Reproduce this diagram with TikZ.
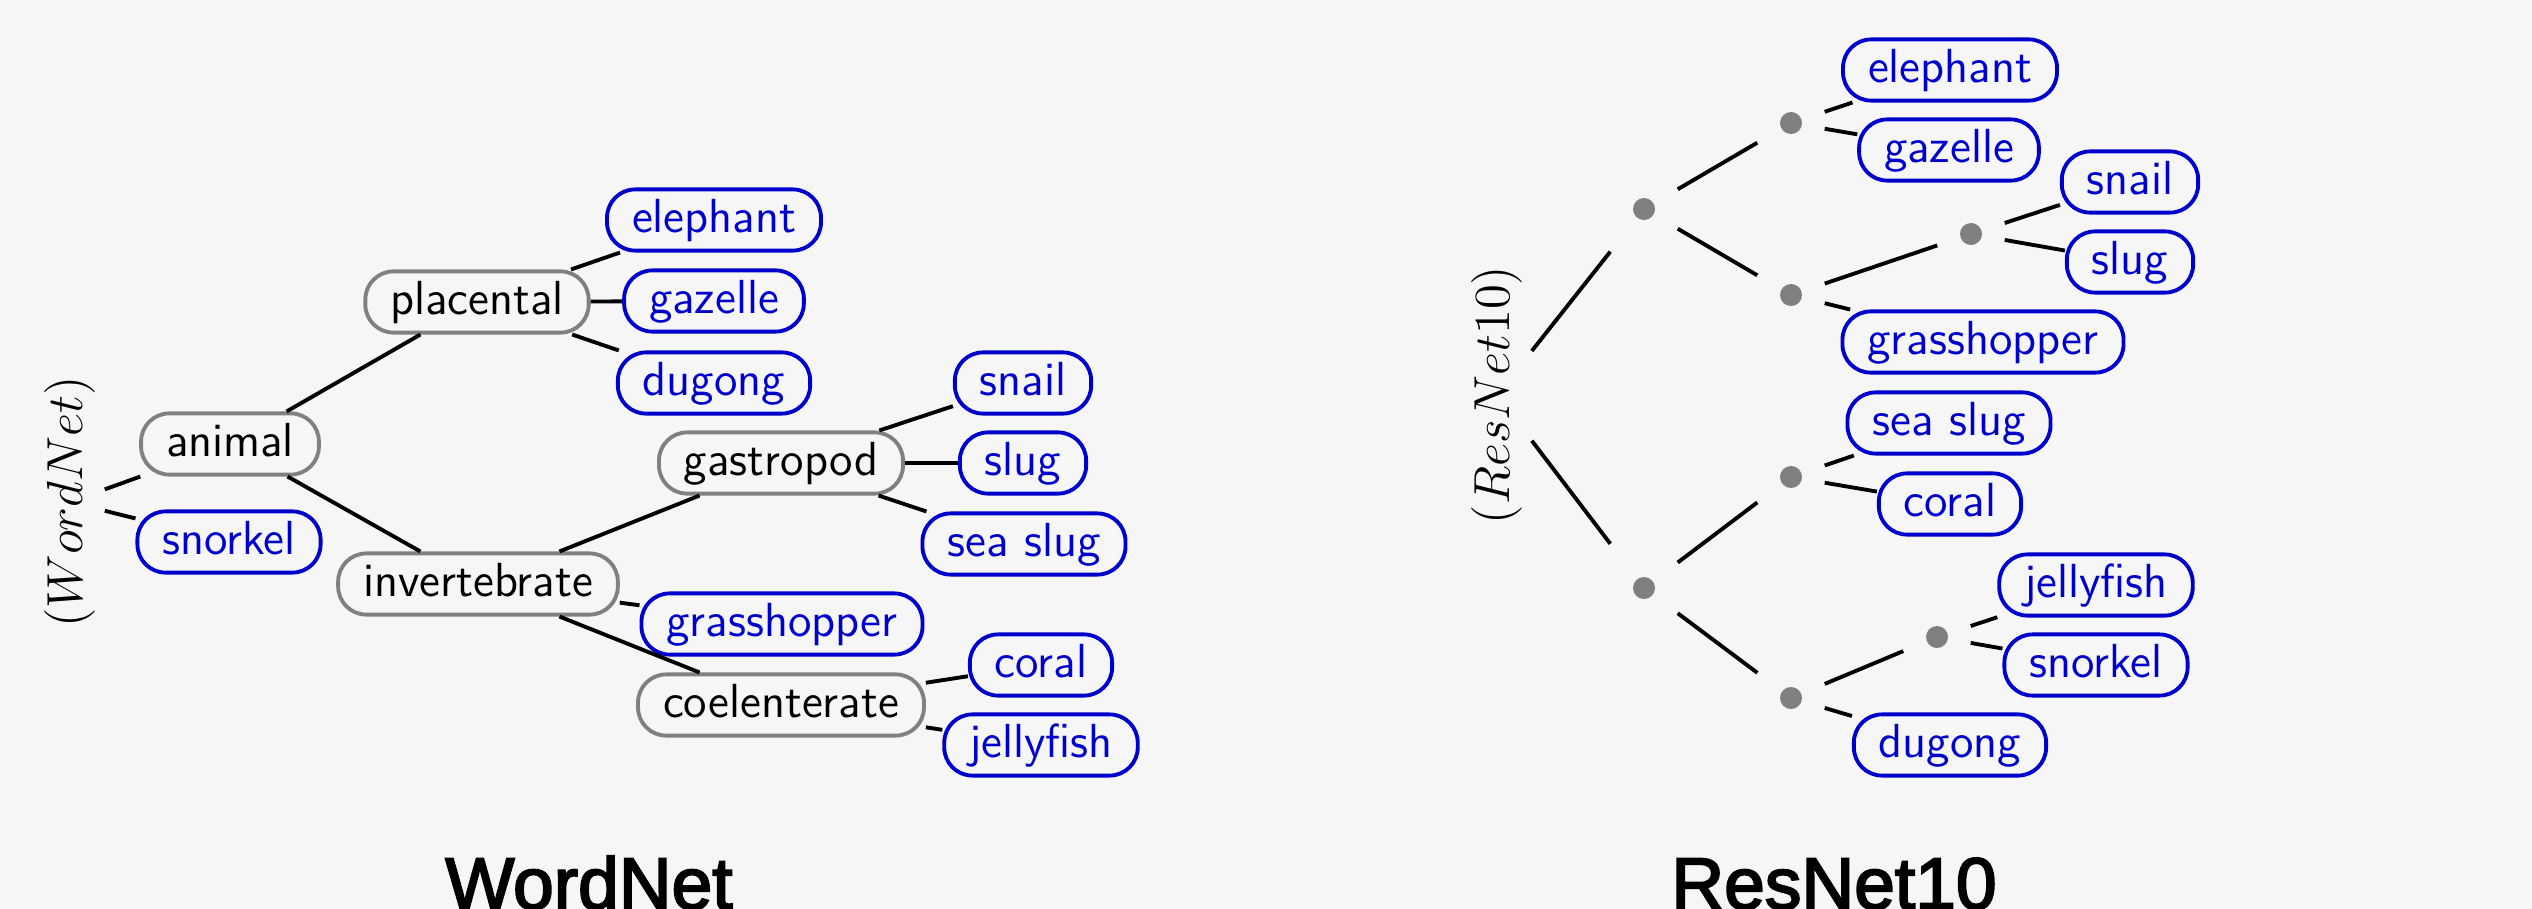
\documentclass[tikz,border=0pt]{standalone}
\usepackage{fontspec}
\newfontfamily\titlefont[FakeBold=2.8]{Liberation Sans}

\definecolor{bgcol}{RGB}{246,246,246}
\definecolor{leafblue}{RGB}{0,0,204}
\definecolor{innergray}{RGB}{128,128,128}

\tikzset{
  box/.style={rectangle, rounded corners=8pt, line width=1.1pt,
    inner xsep=7.1pt, inner ysep=2.4pt, text height=9.8pt, text depth=2.8pt,
    font=\sffamily\fontsize{13.6}{16}\selectfont},
  innerbox/.style={box, draw=innergray, text=black},
  leaf/.style={box, draw=leafblue, text=leafblue},
  dotnode/.style={rectangle, minimum width=0.66cm, minimum height=0.9cm, inner sep=0pt},
  rootlabel/.style={rotate=90, inner sep=2.5pt, font=\fontsize{14.3}{17}\selectfont},
  link/.style={line width=1.1pt, black},
  title/.style={anchor=base, inner sep=0pt, font=\titlefont\fontsize{20.8}{25}\selectfont}
}

\begin{document}
\begin{tikzpicture}[x=0.01cm, y=-0.01cm]
  % canvas
  \fill[bgcol] (0,0) rectangle (2532,909);
  \useasboundingbox (0,0) rectangle (2532,909);

  % ---------------- WordNet hierarchy ----------------
  \node[rootlabel] (rootL) at (70,502) {$(WordNet)$};
  \node[innerbox] (animal) at (230,444) {animal};
  \node[leaf] (snorkelL) at (229,542) {snorkel};
  \node[innerbox] (placental) at (477,302) {placental};
  \node[leaf] (elephantL) at (714,220) {elephant};
  \node[leaf] (gazelleL) at (714,301) {gazelle};
  \node[leaf] (dugongL) at (714,383) {dugong};
  \node[innerbox] (invertebrate) at (478,584) {invertebrate};
  \node[innerbox] (gastropod) at (781,463) {gastropod};
  \node[leaf] (snailL) at (1023,383) {snail};
  \node[leaf] (slugL) at (1023,463) {slug};
  \node[leaf] (seaslugL) at (1024,544) {sea slug};
  \node[leaf] (grasshopperL) at (782,624) {grasshopper};
  \node[innerbox] (coelenterate) at (781,705) {coelenterate};
  \node[leaf] (coralL) at (1041,665) {coral};
  \node[leaf] (jellyfishL) at (1041,745) {jellyfish};

  \draw[link] (rootL) -- (animal);
  \draw[link] (rootL) -- (snorkelL);
  \draw[link] (animal) -- (placental);
  \draw[link] (animal) -- (invertebrate);
  \draw[link] (placental) -- (elephantL);
  \draw[link] (placental) -- (gazelleL);
  \draw[link] (placental) -- (dugongL);
  \draw[link] (invertebrate) -- (gastropod);
  \draw[link] (invertebrate) -- (grasshopperL);
  \draw[link] (invertebrate) -- (coelenterate);
  \draw[link] (gastropod) -- (snailL);
  \draw[link] (gastropod) -- (slugL);
  \draw[link] (gastropod) -- (seaslugL);
  \draw[link] (coelenterate) -- (coralL);
  \draw[link] (coelenterate) -- (jellyfishL);

  % ---------------- ResNet10 hierarchy ----------------
  \node[rootlabel] (rootR) at (1497,395) {$(ResNet10)$};
  \node[dotnode] (d1) at (1644,209) {};
  \node[dotnode] (d2) at (1644,588) {};
  \node[dotnode] (d11) at (1791,123) {};
  \node[dotnode] (d12) at (1791,295) {};
  \node[dotnode] (d121) at (1971,234) {};
  \node[dotnode] (d21) at (1791,477) {};
  \node[dotnode] (d22) at (1791,698) {};
  \node[dotnode] (d221) at (1937,637) {};

  \node[leaf] (elephantR) at (1950,70) {elephant};
  \node[leaf] (gazelleR) at (1949,150) {gazelle};
  \node[leaf] (snailR) at (2130,182) {snail};
  \node[leaf] (slugR) at (2130,262) {slug};
  \node[leaf] (grasshopperR) at (1983,342) {grasshopper};
  \node[leaf] (seaslugR) at (1949,423) {sea slug};
  \node[leaf] (coralR) at (1950,504) {coral};
  \node[leaf] (jellyfishR) at (2096,585) {jellyfish};
  \node[leaf] (snorkelR) at (2096,665) {snorkel};
  \node[leaf] (dugongR) at (1950,745) {dugong};

  \foreach \n in {d1,d2,d11,d12,d121,d21,d22,d221}
    \fill[innergray] (\n) circle (0.11cm);

  \draw[link] (rootR) -- (d1);
  \draw[link] (rootR) -- (d2);
  \draw[link] (d1) -- (d11);
  \draw[link] (d1) -- (d12);
  \draw[link] (d11) -- (elephantR);
  \draw[link] (d11) -- (gazelleR);
  \draw[link] (d12) -- (d121);
  \draw[link] (d12) -- (grasshopperR);
  \draw[link] (d121) -- (snailR);
  \draw[link] (d121) -- (slugR);
  \draw[link] (d2) -- (d21);
  \draw[link] (d2) -- (d22);
  \draw[link] (d21) -- (seaslugR);
  \draw[link] (d21) -- (coralR);
  \draw[link] (d22) -- (d221);
  \draw[link] (d22) -- (dugongR);
  \draw[link] (d221) -- (jellyfishR);
  \draw[link] (d221) -- (snorkelR);

  % ---------------- captions ----------------
  \node[title] (capL) at (589,909) {WordNet};
  \node[title] (capR) at (1834,909) {ResNet10};
\end{tikzpicture}
\end{document}
